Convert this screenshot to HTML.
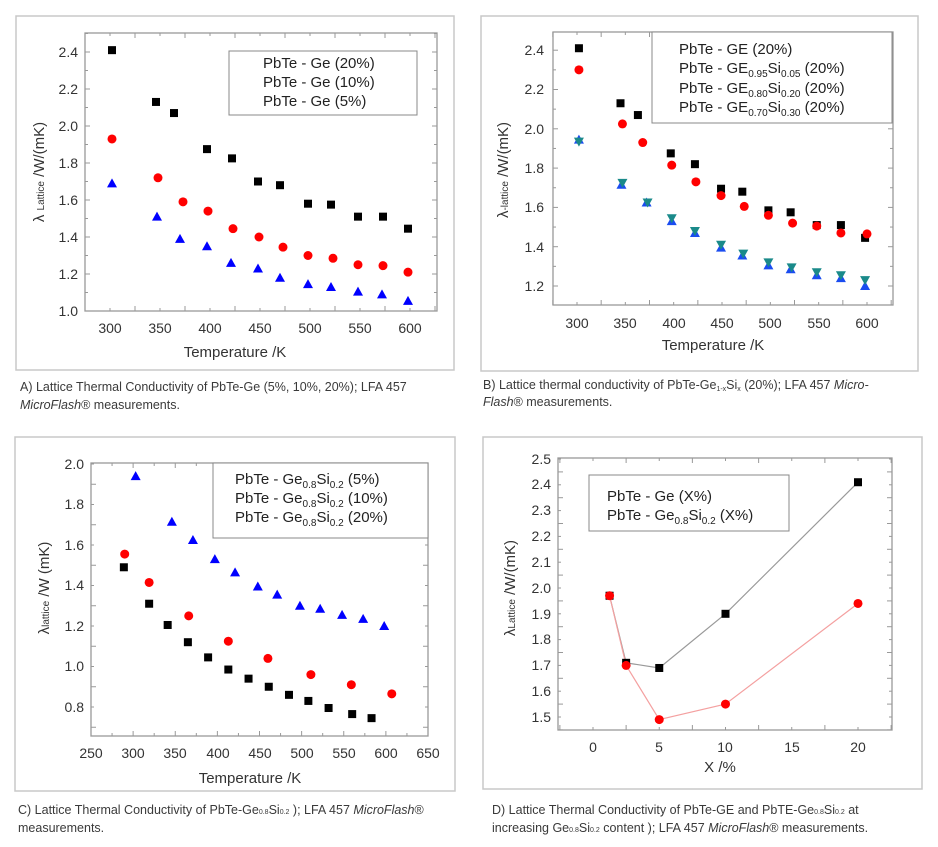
<!DOCTYPE html>
<html><head><meta charset="utf-8"><style>
html,body{margin:0;padding:0;background:#fff}
svg{display:block;font-family:"Liberation Sans",Arial,sans-serif}
.t{font-size:14px;fill:#333}
.ax{font-size:15px;fill:#333}
.lg{font-size:15px;fill:#222}
.cap{font-size:12.5px;fill:#3a3a3a}
</style></head><body>
<svg id="s" width="938" height="847" viewBox="0 0 938 847" xmlns="http://www.w3.org/2000/svg">
<rect width="938" height="847" fill="#fff"/>
<rect x="16" y="16" width="438" height="354" fill="none" stroke="#c8c8c8" stroke-width="1.5"/>
<rect x="481" y="16" width="437" height="355" fill="none" stroke="#c8c8c8" stroke-width="1.5"/>
<rect x="15" y="437" width="440" height="354" fill="none" stroke="#c8c8c8" stroke-width="1.5"/>
<rect x="483" y="437" width="439" height="352" fill="none" stroke="#c8c8c8" stroke-width="1.5"/>
<g id="g"></g>

<g class="t" text-anchor="end">
<text x="78" y="316">1.0</text><text x="78" y="279">1.2</text><text x="78" y="242">1.4</text><text x="78" y="205">1.6</text><text x="78" y="168">1.8</text><text x="78" y="131">2.0</text><text x="78" y="94">2.2</text><text x="78" y="57">2.4</text>
</g>
<g class="t" text-anchor="middle">
<text x="110" y="333">300</text><text x="160" y="333">350</text><text x="210" y="333">400</text><text x="260" y="333">450</text><text x="310" y="333">500</text><text x="360" y="333">550</text><text x="410" y="333">600</text>
</g>
<text class="ax" x="235" y="357" text-anchor="middle">Temperature /K</text>
<text class="ax" transform="translate(44,172) rotate(-90)" text-anchor="middle">λ <tspan font-size="10">Lattice</tspan> /W/(mK)</text>
<rect x="229" y="51" width="188" height="64" fill="#fff" stroke="#888"/>
<text class="lg" x="263" y="68">PbTe - Ge (20%)</text>
<text class="lg" x="263" y="87">PbTe - Ge (10%)</text>
<text class="lg" x="263" y="106">PbTe - Ge (5%)</text>
<text class="cap" x="20" y="391">A) Lattice Thermal Conductivity of PbTe-Ge (5%, 10%, 20%); LFA 457</text>
<text class="cap" x="20" y="409"><tspan font-style="italic">MicroFlash</tspan>® measurements.</text>

<g class="t" text-anchor="end">
<text x="544" y="291">1.2</text><text x="544" y="252">1.4</text><text x="544" y="212">1.6</text><text x="544" y="173">1.8</text><text x="544" y="134">2.0</text><text x="544" y="94">2.2</text><text x="544" y="55">2.4</text>
</g>
<g class="t" text-anchor="middle">
<text x="577" y="328">300</text><text x="625" y="328">350</text><text x="674" y="328">400</text><text x="722" y="328">450</text><text x="770" y="328">500</text><text x="819" y="328">550</text><text x="867" y="328">600</text>
</g>
<text class="ax" x="713" y="350" text-anchor="middle">Temperature /K</text>
<text class="ax" transform="translate(508,170) rotate(-90)" text-anchor="middle">λ<tspan font-size="10">-lattice</tspan> /W/(mK)</text>
<rect x="652" y="32" width="240" height="91" fill="#fff" stroke="#888"/>
<text class="lg" x="679" y="54">PbTe - GE (20%)</text>
<text class="lg" x="679" y="73">PbTe - GE<tspan font-size="10" dy="4">0.95</tspan><tspan dy="-4">Si</tspan><tspan font-size="10" dy="4">0.05</tspan><tspan dy="-4"> (20%)</tspan></text>
<text class="lg" x="679" y="93">PbTe - GE<tspan font-size="10" dy="4">0.80</tspan><tspan dy="-4">Si</tspan><tspan font-size="10" dy="4">0.20</tspan><tspan dy="-4"> (20%)</tspan></text>
<text class="lg" x="679" y="112">PbTe - GE<tspan font-size="10" dy="4">0.70</tspan><tspan dy="-4">Si</tspan><tspan font-size="10" dy="4">0.30</tspan><tspan dy="-4"> (20%)</tspan></text>
<text class="cap" x="483" y="389">B) Lattice thermal conductivity of PbTe-Ge<tspan font-size="7" dy="2">1-x</tspan><tspan dy="-2">Si</tspan><tspan font-size="7" dy="2">x</tspan><tspan dy="-2"> (20%); LFA 457 </tspan><tspan font-style="italic">Micro-</tspan></text>
<text class="cap" x="483" y="406"><tspan font-style="italic">Flash</tspan>® measurements.</text>

<g class="t" text-anchor="end">
<text x="84" y="712">0.8</text><text x="84" y="671">1.0</text><text x="84" y="631">1.2</text><text x="84" y="590">1.4</text><text x="84" y="550">1.6</text><text x="84" y="509">1.8</text><text x="84" y="469">2.0</text>
</g>
<g class="t" text-anchor="middle">
<text x="91" y="758">250</text><text x="133" y="758">300</text><text x="175" y="758">350</text><text x="218" y="758">400</text><text x="260" y="758">450</text><text x="302" y="758">500</text><text x="344" y="758">550</text><text x="386" y="758">600</text><text x="428" y="758">650</text>
</g>
<text class="ax" x="250" y="783" text-anchor="middle">Temperature  /K</text>
<text class="ax" transform="translate(49,588) rotate(-90)" text-anchor="middle">λ<tspan font-size="10">lattice</tspan> /W (mK)</text>
<rect x="213" y="463" width="215" height="75" fill="#fff" stroke="#888"/>
<text class="lg" x="235" y="484">PbTe - Ge<tspan font-size="10" dy="4">0.8</tspan><tspan dy="-4">Si</tspan><tspan font-size="10" dy="4">0.2</tspan><tspan dy="-4"> (5%)</tspan></text>
<text class="lg" x="235" y="503">PbTe - Ge<tspan font-size="10" dy="4">0.8</tspan><tspan dy="-4">Si</tspan><tspan font-size="10" dy="4">0.2</tspan><tspan dy="-4"> (10%)</tspan></text>
<text class="lg" x="235" y="522">PbTe - Ge<tspan font-size="10" dy="4">0.8</tspan><tspan dy="-4">Si</tspan><tspan font-size="10" dy="4">0.2</tspan><tspan dy="-4"> (20%)</tspan></text>
<text class="cap" x="18" y="814">C) Lattice Thermal Conductivity of PbTe-Ge<tspan font-size="7">0.8</tspan>Si<tspan font-size="7">0.2</tspan> ); LFA 457 <tspan font-style="italic">MicroFlash</tspan>®</text>
<text class="cap" x="18" y="832">measurements.</text>

<g class="t" text-anchor="end">
<text x="551" y="722">1.5</text><text x="551" y="696">1.6</text><text x="551" y="670">1.7</text><text x="551" y="644">1.8</text><text x="551" y="619">1.9</text><text x="551" y="593">2.0</text><text x="551" y="567">2.1</text><text x="551" y="541">2.2</text><text x="551" y="515">2.3</text><text x="551" y="489">2.4</text><text x="551" y="464">2.5</text>
</g>
<g class="t" text-anchor="middle">
<text x="593" y="752">0</text><text x="659" y="752">5</text><text x="725" y="752">10</text><text x="792" y="752">15</text><text x="858" y="752">20</text>
</g>
<text class="ax" x="720" y="772" text-anchor="middle">X /%</text>
<text class="ax" transform="translate(515,588) rotate(-90)" text-anchor="middle">λ<tspan font-size="10">Lattice</tspan> /W/(mK)</text>
<rect x="589" y="475" width="200" height="56" fill="#fff" stroke="#888"/>
<text class="lg" x="607" y="501">PbTe - Ge (X%)</text>
<text class="lg" x="607" y="520">PbTe - Ge<tspan font-size="10" dy="4">0.8</tspan><tspan dy="-4">Si</tspan><tspan font-size="10" dy="4">0.2</tspan><tspan dy="-4"> (X%)</tspan></text>
<text class="cap" x="492" y="814">D) Lattice Thermal Conductivity of PbTe-GE and PbTE-Ge<tspan font-size="7">0.8</tspan>Si<tspan font-size="7">0.2</tspan>  at</text>
<text class="cap" x="492" y="832">increasing Ge<tspan font-size="7">0.8</tspan>Si<tspan font-size="7">0.2</tspan> content ); LFA 457 <tspan font-style="italic">MicroFlash</tspan>® measurements.</text>
</svg>
<script>
var NS="http://www.w3.org/2000/svg",G=document.getElementById("g");
function el(t,a){var e=document.createElementNS(NS,t);for(var k in a)e.setAttribute(k,a[k]);G.appendChild(e);return e;}
function sq(x,y,c){el("rect",{x:x-4,y:y-4,width:8,height:8,fill:c||"#000"});}
function ci(x,y,c){el("circle",{cx:x,cy:y,r:4.5,fill:c||"#f00"});}
function tr(x,y,c){el("polygon",{points:(x-5)+","+(y+4)+" "+(x+5)+","+(y+4)+" "+x+","+(y-5),fill:c||"#00f"});}
function td(x,y,c){el("polygon",{points:(x-5)+","+(y-4)+" "+(x+5)+","+(y-4)+" "+x+","+(y+5),fill:c});}
function axes(p){
 el("rect",{x:p.l,y:p.t,width:p.r-p.l,height:p.b-p.t,fill:"none",stroke:"#999","stroke-width":1.3});
 for(var v=p.xs;v<=p.xe+1e-9;v+=p.xm){var x=p.fx(v);if(x<p.l-0.5||x>p.r+0.5)continue;var maj=Math.abs(((v-p.xs)/p.xM)-Math.round((v-p.xs)/p.xM))<1e-6;var L=maj?5:3;
  el("line",{x1:x,y1:p.b,x2:x,y2:p.b-L,stroke:"#999"});el("line",{x1:x,y1:p.t,x2:x,y2:p.t+L,stroke:"#999"});}
 for(var v=p.ys;v<=p.ye+1e-9;v+=p.ym){var y=p.fy(v);if(y<p.t-0.5||y>p.b+0.5)continue;var maj=Math.abs(((v-p.ys)/p.yM)-Math.round((v-p.ys)/p.yM))<1e-6;var L=maj?5:3;
  el("line",{x1:p.l,y1:y,x2:p.l+L,y2:y,stroke:"#999"});el("line",{x1:p.r,y1:y,x2:p.r-L,y2:y,stroke:"#999"});}
}
var A={l:85,r:437,t:33,b:311,fx:function(v){return 110+(v-300);},fy:function(v){return 311-(v-1)*185;},xs:275,xe:625,xm:25,xM:50,ys:1.0,ye:2.5,ym:0.1,yM:0.2};
axes(A);
[[302,2.41],[346,2.13],[364,2.07],[397,1.875],[422,1.825],[448,1.70],[470,1.68],[498,1.58],[521,1.575],[548,1.51],[573,1.51],[598,1.445]].forEach(function(d){sq(A.fx(d[0]),A.fy(d[1]));});
[[302,1.93],[348,1.72],[373,1.59],[398,1.54],[423,1.445],[449,1.40],[473,1.345],[498,1.30],[523,1.285],[548,1.25],[573,1.245],[598,1.21]].forEach(function(d){ci(A.fx(d[0]),A.fy(d[1]));});
[[302,1.69],[347,1.51],[370,1.39],[397,1.35],[421,1.26],[448,1.23],[470,1.18],[498,1.145],[521,1.13],[548,1.105],[572,1.09],[598,1.055]].forEach(function(d){tr(A.fx(d[0]),A.fy(d[1]));});
sq(242,63);ci(242,82);tr(242,101);
var B={l:553,r:893,t:32,b:305,fx:function(v){return 577+(v-300)*0.9667;},fy:function(v){return 286-(v-1.2)*196.5;},xs:275,xe:625,xm:25,xM:50,ys:1.2,ye:2.5,ym:0.1,yM:0.2};
axes(B);
[[302,2.41],[345,2.13],[363,2.07],[397,1.875],[422,1.82],[449,1.695],[471,1.68],[498,1.585],[521,1.575],[548,1.51],[573,1.51],[598,1.445]].forEach(function(d){sq(B.fx(d[0]),B.fy(d[1]));});
[[302,2.30],[347,2.025],[368,1.93],[398,1.815],[423,1.73],[449,1.66],[473,1.605],[498,1.56],[523,1.52],[548,1.505],[573,1.47],[600,1.465]].forEach(function(d){ci(B.fx(d[0]),B.fy(d[1]));});
[[302,1.945],[346,1.715],[372,1.625],[398,1.53],[422,1.47],[449,1.395],[471,1.355],[498,1.305],[521,1.285],[548,1.255],[573,1.24],[598,1.20]].forEach(function(d){tr(B.fx(d[0]),B.fy(d[1]),"#1a4cf0");});
[[302,1.935],[347,1.725],[373,1.625],[398,1.545],[422,1.48],[449,1.41],[472,1.365],[498,1.32],[522,1.295],[548,1.27],[573,1.255],[598,1.23]].forEach(function(d){td(B.fx(d[0]),B.fy(d[1]),"#1a8a8a");});
sq(670,49);ci(670,68);tr(670,88,"#1a4cf0");tr(670,107,"#1a8a8a");
var C={l:91,r:428,t:463,b:736,fx:function(v){return 91+(v-250)*0.8425;},fy:function(v){return 707-(v-0.8)*202.5;},xs:250,xe:650,xm:25,xM:50,ys:0.7,ye:2.0,ym:0.1,yM:0.2};
axes(C);
[[289,1.49],[319,1.31],[341,1.205],[365,1.12],[389,1.045],[413,0.985],[437,0.94],[461,0.90],[485,0.86],[508,0.83],[532,0.795],[560,0.765],[583,0.745]].forEach(function(d){sq(C.fx(d[0]),C.fy(d[1]));});
[[290,1.555],[319,1.415],[366,1.25],[413,1.125],[460,1.04],[511,0.96],[559,0.91],[607,0.865]].forEach(function(d){ci(C.fx(d[0]),C.fy(d[1]));});
[[303,1.94],[346,1.715],[371,1.625],[397,1.53],[421,1.465],[448,1.395],[471,1.355],[498,1.30],[522,1.285],[548,1.255],[573,1.235],[598,1.20]].forEach(function(d){tr(C.fx(d[0]),C.fy(d[1]));});
sq(222,479);ci(222,498);tr(222,517);
var D={l:558,r:892,t:458,b:730,fx:function(v){return 593+v*13.25;},fy:function(v){return 717-(v-1.5)*258;},xs:-2.5,xe:22.5,xm:2.5,xM:5,ys:1.45,ye:2.5,ym:0.05,yM:0.1};
axes(D);
var db=[[1.25,1.97],[2.5,1.71],[5,1.69],[10,1.90],[20,2.41]],dr=[[1.25,1.97],[2.5,1.70],[5,1.49],[10,1.55],[20,1.94]];
el("polyline",{points:db.map(function(d){return D.fx(d[0])+","+D.fy(d[1]);}).join(" "),fill:"none",stroke:"#999","stroke-width":1.2});
el("polyline",{points:dr.map(function(d){return D.fx(d[0])+","+D.fy(d[1]);}).join(" "),fill:"none",stroke:"#f4a0a0","stroke-width":1.2});
db.forEach(function(d){sq(D.fx(d[0]),D.fy(d[1]));});
dr.forEach(function(d){ci(D.fx(d[0]),D.fy(d[1]));});
sq(597,496);ci(597,515);
</script>
</body></html>
